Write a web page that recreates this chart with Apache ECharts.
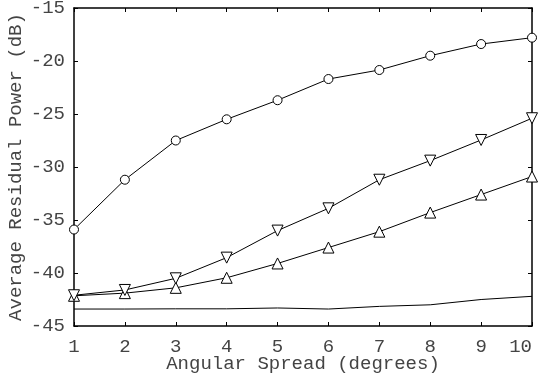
<!DOCTYPE html>
<html>
<head>
<meta charset="utf-8">
<script src="https://cdn.jsdelivr.net/npm/echarts@6/dist/echarts.min.js"></script>
<style>
  html, body { margin: 0; padding: 0; background: #fff; }
  #chart { width: 541px; height: 374px; }
</style>
</head>
<body>
<div id="chart"></div>
<script>
const angularSpread = [1, 2, 3, 4, 5, 6, 7, 8, 9, 10];
const circleSeries = [-35.9, -31.2, -27.5, -25.5, -23.7, -21.7, -20.85, -19.5, -18.4, -17.8];
const downTriSeries = [-42.1, -41.6, -40.5, -38.55, -36.0, -33.9, -31.2, -29.4, -27.45, -25.4];
const upTriSeries = [-42.15, -41.9, -41.4, -40.45, -39.1, -37.6, -36.1, -34.3, -32.6, -30.9];
const floorSeries = [-43.4, -43.4, -43.38, -43.38, -43.3, -43.4, -43.15, -43.0, -42.5, -42.2];

const FONT = "'Liberation Mono', 'DejaVu Sans Mono', monospace";
const TEXT = "#444";

const pairs = (ys) => angularSpread.map((x, i) => [x, ys[i]]);

const frameAxis = {
  axisLine: { show: true, onZero: false, lineStyle: { color: "#000", width: 1.5 } },
  axisTick: { show: true, inside: true, length: 4, lineStyle: { color: "#000" } },
  splitLine: { show: false },
};

const lineSeries = (data, symbol, rotate) => ({
  type: "line",
  data: pairs(data),
  symbol: symbol,
  symbolRotate: rotate || 0,
  symbolSize: symbol === "circle" ? 9 : 11,
  showSymbol: symbol !== "none",
  lineStyle: { color: "#000", width: 1 },
  itemStyle: { color: "#fff", borderColor: "#000", borderWidth: 1 },
  animation: false,
  z: 3,
});

const chart = echarts.init(document.getElementById("chart"));
chart.setOption({
  grid: { left: 74, right: 9, top: 8, bottom: 48, outerBoundsMode: "none", containLabel: false },
  xAxis: [
    {
      ...frameAxis,
      type: "value",
      min: 1,
      max: 10,
      interval: 1,
      position: "bottom",
      name: "Angular Spread (degrees)",
      nameLocation: "middle",
      nameGap: 28,
      nameMoveOverlap: false,
      nameTextStyle: { fontFamily: FONT, fontSize: 19, color: TEXT },
      axisLabel: { fontFamily: FONT, fontSize: 19, color: TEXT, margin: 11, alignMaxLabel: "right" },
    },
    {
      ...frameAxis,
      type: "value",
      min: 1,
      max: 10,
      interval: 1,
      position: "top",
      axisLabel: { show: false },
    },
  ],
  yAxis: [
    {
      ...frameAxis,
      type: "value",
      min: -45,
      max: -15,
      interval: 5,
      position: "left",
      name: "Average Residual Power (dB)",
      nameLocation: "middle",
      nameGap: 49,
      nameMoveOverlap: false,
      nameTextStyle: { fontFamily: FONT, fontSize: 19, color: TEXT },
      axisLabel: { fontFamily: FONT, fontSize: 19, color: TEXT, margin: 9 },
    },
    {
      ...frameAxis,
      type: "value",
      min: -45,
      max: -15,
      interval: 5,
      position: "right",
      axisLabel: { show: false },
    },
  ],
  series: [
    lineSeries(floorSeries, "none"),
    lineSeries(circleSeries, "circle"),
    lineSeries(upTriSeries, "triangle"),
    lineSeries(downTriSeries, "triangle", 180),
  ],
});
</script>
</body>
</html>
